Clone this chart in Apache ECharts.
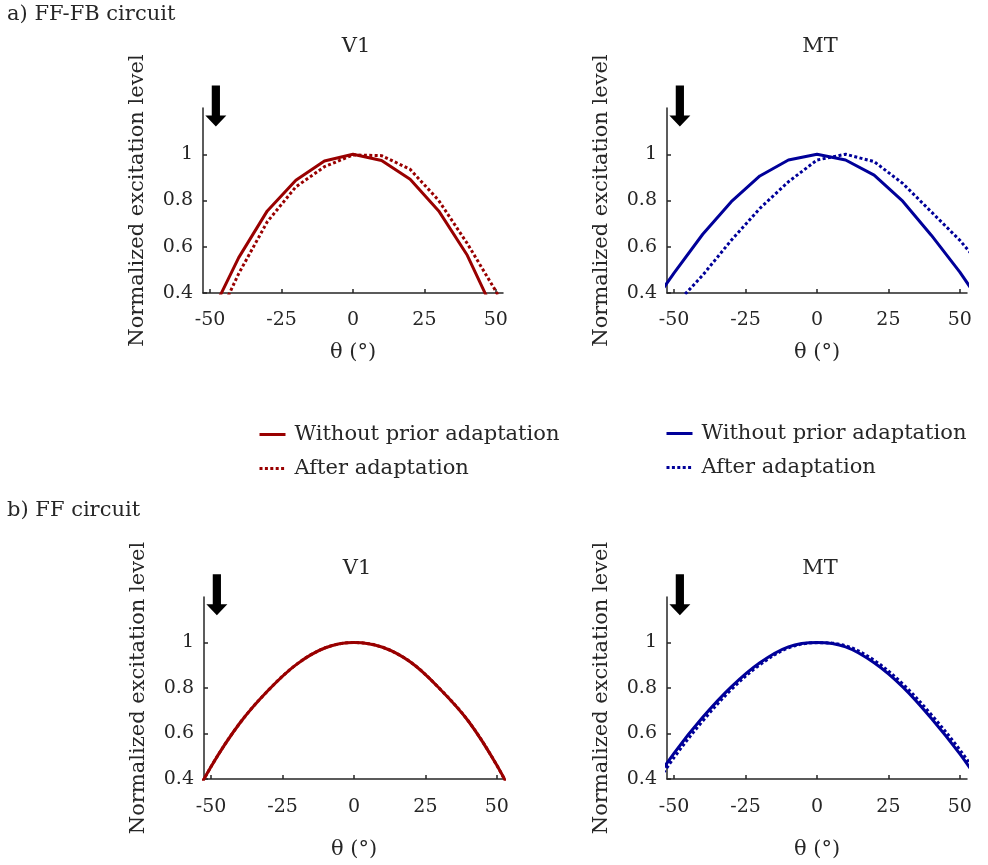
<!DOCTYPE html>
<html>
<head>
<meta charset="utf-8">
<script src="https://cdn.jsdelivr.net/npm/echarts@6/dist/echarts.min.js"></script>
<style>html,body{margin:0;padding:0;background:#fff}#c{width:988px;height:865px}</style>
</head>
<body>
<div id="c"></div>
<script>
// ---- data ----
const theta = [-60, -50, -40, -30, -20, -10, 0, 10, 20, 30, 40, 50, 60];
const xTicks = [-50, -25, 0, 25, 50];
const yTicks = [0.4, 0.6, 0.8, 1];
const ffFbV1Without = [null, 0.30, 0.553, 0.755, 0.888, 0.971, 1.0, 0.973, 0.892, 0.755, 0.563, 0.30, null];
const ffFbV1After   = [null, 0.22, 0.484, 0.708, 0.859, 0.946, 0.997, 0.994, 0.935, 0.80, 0.614, 0.408, 0.17];
const ffFbMTWithout = [0.31, 0.487, 0.654, 0.795, 0.906, 0.975, 1.0, 0.975, 0.91, 0.797, 0.65, 0.49, 0.31];
const ffFbMTAfter   = [null, 0.344, 0.477, 0.628, 0.766, 0.881, 0.975, 1.0, 0.968, 0.874, 0.751, 0.628, 0.48];
const ffV1Without   = [0.22, 0.455, 0.645, 0.79, 0.905, 0.977, 1.0, 0.979, 0.912, 0.797, 0.655, 0.46, 0.22];
const ffV1After     = [0.22, 0.455, 0.645, 0.79, 0.905, 0.977, 1.0, 0.979, 0.912, 0.797, 0.655, 0.46, 0.22];
const ffMTWithout   = [0.33, 0.514, 0.671, 0.805, 0.911, 0.981, 1.0, 0.981, 0.911, 0.805, 0.667, 0.51, 0.33];
const ffMTAfter     = [0.31, 0.495, 0.655, 0.793, 0.902, 0.976, 0.999, 0.986, 0.922, 0.818, 0.683, 0.528, 0.35];
const adaptTheta = -48;   // adapter direction (arrow)
const adaptLevel = 1.12;
const legendLabels = {
  v1_without: 'Without prior adaptation', v1_after: 'After adaptation',
  mt_without: 'Without prior adaptation', mt_after: 'After adaptation'
};
const panelTitles = ['V1', 'MT', 'V1', 'MT'];
const rowTitles = ['a) FF-FB circuit', 'b) FF circuit'];

// ---- style ----
const FONT = 'DejaVu Serif';
const TXT = '#262626';
const RED = '#990000';
const BLUE = '#000099';
const NAME_SIZE = 21;
const TICK_SIZE = 19;
const pair = ys => theta.map((t, i) => [t, ys[i]]);

const grids = [
  {left: 203, top: 108, width: 300, height: 185},
  {left: 667, top: 108, width: 300, height: 185},
  {left: 204, top: 597, width: 300, height: 182},
  {left: 667, top: 597, width: 300, height: 182}
];
const xNameGap = [49, 49, 60, 60];
const xLabelMargin = [18, 18, 19, 19];

const xAxes = grids.map((g, i) => ({
  type: 'value', gridIndex: i, min: -52.5, max: 52.5,
  name: 'θ (°)', nameLocation: 'middle', nameGap: xNameGap[i],
  nameTextStyle: {fontFamily: FONT, fontSize: NAME_SIZE, color: TXT},
  axisLine: {show: true, onZero: false, lineStyle: {color: TXT, width: 1.5}},
  axisTick: {show: true, inside: true, length: 4, customValues: xTicks, lineStyle: {color: TXT, width: 1.5}},
  axisLabel: {customValues: xTicks, fontFamily: FONT, fontSize: TICK_SIZE, color: TXT, margin: xLabelMargin[i]},
  splitLine: {show: false}
}));
const yAxes = grids.map((g, i) => ({
  type: 'value', gridIndex: i, min: 0.4, max: 1.2,
  name: 'Normalized excitation level', nameLocation: 'middle', nameGap: 55, nameRotate: 90,
  nameTextStyle: {fontFamily: FONT, fontSize: NAME_SIZE, color: TXT},
  axisLine: {show: true, onZero: false, lineStyle: {color: TXT, width: 1.5}},
  axisTick: {show: true, inside: true, length: 4, customValues: yTicks, lineStyle: {color: TXT, width: 1.5}},
  axisLabel: {customValues: yTicks, fontFamily: FONT, fontSize: TICK_SIZE, color: TXT, margin: 10,
    formatter: v => (v === 1 ? '1' : v.toFixed(1))},
  splitLine: {show: false}
}));

const arrowPath = 'path://M6.4,0 L14.6,0 L14.6,30 L21,30 L10.5,41 L0,30 L6.4,30 Z';
const arrowMark = {
  silent: true,
  symbol: arrowPath, symbolSize: [21, 41], symbolOffset: [0, -20.5], symbolKeepAspect: false,
  itemStyle: {color: '#000'}, label: {show: false},
  data: [{coord: [adaptTheta, adaptLevel]}]
};

function mk(name, ys, idx, color, dotted, smooth, withArrow) {
  const s = {
    name, type: 'line', xAxisIndex: idx, yAxisIndex: idx, data: pair(ys),
    showSymbol: false, symbol: 'none', smooth: smooth ? 0.35 : false, clip: true,
    lineStyle: {color, width: 3, type: dotted ? [3, 2.4] : 'solid', cap: 'butt'},
    itemStyle: {color}, z: dotted ? 3 : 2, animation: false
  };
  if (withArrow) s.markPoint = arrowMark;
  return s;
}

const series = [
  mk('v1_without', ffFbV1Without, 0, RED, false, false, true),
  mk('v1_after', ffFbV1After, 0, RED, true, false, false),
  mk('mt_without', ffFbMTWithout, 1, BLUE, false, false, true),
  mk('mt_after', ffFbMTAfter, 1, BLUE, true, false, false),
  mk('v1_without', ffV1Without, 2, RED, false, true, true),
  mk('v1_after', ffV1After, 2, RED, true, true, false),
  mk('mt_without', ffMTWithout, 3, BLUE, false, true, true),
  mk('mt_after', ffMTAfter, 3, BLUE, true, true, false)
];

const legendBase = {
  orient: 'vertical', itemWidth: 26, itemHeight: 14, itemGap: 13, padding: 0,
  formatter: n => legendLabels[n], selectedMode: false,
  itemStyle: {opacity: 0, borderWidth: 0},
  lineStyle: {width: 3},
  textStyle: {fontFamily: FONT, fontSize: NAME_SIZE, color: TXT, padding: [0, 0, 0, 4]}
};

const titleY = [46, 46, 568, 568];
const graphics = [];
rowTitles.forEach((t, i) => graphics.push({
  type: 'text', left: 7, top: i === 0 ? 4 : 500,
  style: {text: t, font: NAME_SIZE + 'px "' + FONT + '"', fill: TXT}
}));
panelTitles.forEach((t, i) => graphics.push({
  type: 'text', x: grids[i].left + grids[i].width / 2 + 3, y: titleY[i] + 1,
  style: {text: t, font: NAME_SIZE + 'px "' + FONT + '"', fill: TXT, align: 'center', verticalAlign: 'middle'}
}));

const chart = echarts.init(document.getElementById('c'), null, {renderer: 'canvas'});
chart.setOption({
  animation: false,
  backgroundColor: '#fff',
  grid: grids,
  xAxis: xAxes,
  yAxis: yAxes,
  legend: [
    Object.assign({}, legendBase, {data: ['v1_without', 'v1_after'], left: 258, top: 424}),
    Object.assign({}, legendBase, {data: ['mt_without', 'mt_after'], left: 665, top: 423})
  ],
  graphic: graphics,
  series
});
</script>
</body>
</html>
